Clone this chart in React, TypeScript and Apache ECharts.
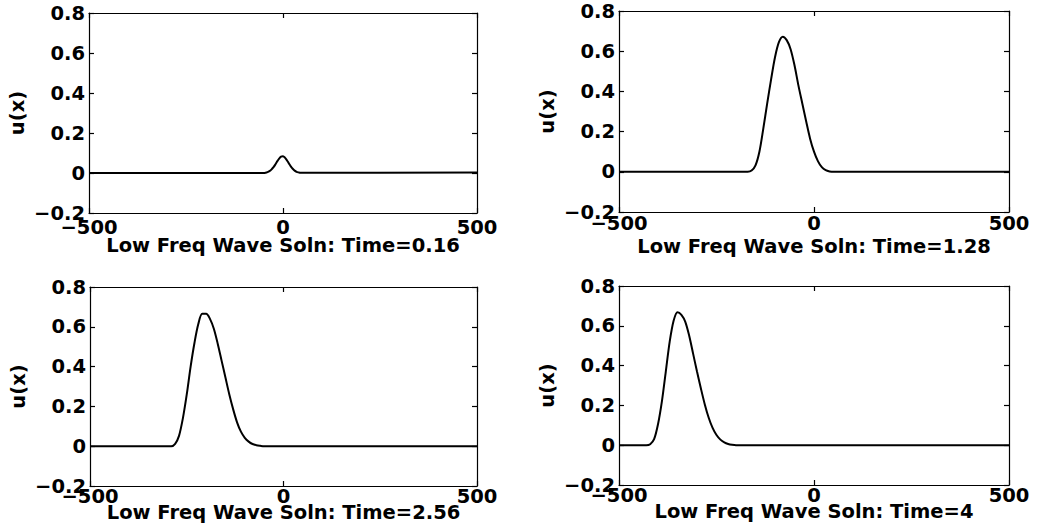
import React, { useEffect, useRef } from "react";
import * as echarts from "echarts";

// Panel titles (x-axis names)
const titles = [
  "Low Freq Wave Soln: Time=0.16",
  "Low Freq Wave Soln: Time=1.28",
  "Low Freq Wave Soln: Time=2.56",
  "Low Freq Wave Soln: Time=4",
];

// Axis ranges / ticks
const xTicks = [-500, 0, 500];
const yTicks = [-0.2, 0, 0.2, 0.4, 0.6, 0.8];
const yLabel = "u(x)";

// Panel 1: Time = 0.16
const x1 = [-500, -50, -45, -40, -35, -30, -25, -20, -15, -10, -5, 0, 5, 10, 15, 20, 25, 30, 35, 40, 45, 50, 500];
const y1 = [0, 0, 0.001, 0.004, 0.009, 0.017, 0.028, 0.042, 0.058, 0.072, 0.082, 0.084, 0.077, 0.064, 0.048, 0.033, 0.021, 0.012, 0.006, 0.003, 0.001, 0.001, 0.003];

// Panel 2: Time = 1.28
const x2 = [-500, -170, -160, -150, -140, -130, -120, -110, -100, -90, -80, -70, -60, -50, -40, -30, -20, -10, 0, 10, 20, 30, 40, 50, 500];
const y2 = [0, 0, 0.006, 0.032, 0.1, 0.215, 0.34, 0.46, 0.57, 0.645, 0.672, 0.655, 0.61, 0.53, 0.43, 0.34, 0.25, 0.165, 0.1, 0.053, 0.023, 0.008, 0.002, 0, 0];

// Panel 3: Time = 2.56
const x3 = [-500, -290, -280, -270, -260, -250, -240, -230, -220, -210, -200, -190, -180, -170, -160, -150, -140, -130, -120, -110, -100, -90, -80, -70, -60, -50, 500];
const y3 = [0, 0, 0.012, 0.052, 0.14, 0.26, 0.4, 0.52, 0.615, 0.665, 0.665, 0.64, 0.59, 0.515, 0.43, 0.345, 0.26, 0.185, 0.12, 0.073, 0.042, 0.023, 0.011, 0.005, 0.002, 0, 0];

// Panel 4: Time = 4
const x4 = [-500, -430, -420, -410, -400, -390, -380, -370, -360, -350, -340, -330, -320, -310, -300, -290, -280, -270, -260, -250, -240, -230, -220, -210, -200, 500];
const y4 = [0, 0, 0.005, 0.03, 0.105, 0.22, 0.37, 0.52, 0.625, 0.668, 0.655, 0.62, 0.55, 0.46, 0.37, 0.285, 0.205, 0.138, 0.087, 0.051, 0.028, 0.014, 0.006, 0.002, 0, 0];

const panelsX = [x1, x2, x3, x4];
const panelsY = [y1, y2, y3, y4];

const FONT = "DejaVu Sans";

export default function App() {
  const ref = useRef<HTMLDivElement>(null);

  useEffect(() => {
    if (!ref.current) return;
    const chart = echarts.init(ref.current, undefined, { renderer: "svg" });

    const grids = [
      { left: 89, top: 13, width: 388, height: 200 },
      { left: 619, top: 11, width: 390, height: 201 },
      { left: 90, top: 287, width: 387, height: 199 },
      { left: 619, top: 286, width: 390, height: 199 },
    ];
    const labelMargins = [4, 1.5, 0, 0];
    const nameGaps = [22, 24, 16, 16];

    const fmt = (v: number) => {
      const s = String(Math.round(v * 1000) / 1000);
      return s.replace("-", "\u2212");
    };

    const lineStyle = { color: "#000", width: 1.2 };
    const labelStyle = {
      color: "#000",
      fontFamily: FONT,
      fontWeight: "bold" as const,
      fontSize: 19.5,
    };

    const xAxes: any[] = [];
    const yAxes: any[] = [];
    const series: any[] = [];

    grids.forEach((_, i) => {
      const xMin = xTicks[0];
      const xMax = xTicks[xTicks.length - 1];
      const xInt = xTicks[1] - xTicks[0];
      const yMin = yTicks[0];
      const yMax = yTicks[yTicks.length - 1];
      const yInt = 0.2;
      xAxes.push({
        type: "value",
        gridIndex: i,
        position: "bottom",
        min: xMin,
        max: xMax,
        interval: xInt,
        axisLine: { show: true, onZero: false, lineStyle },
        axisTick: { show: true, inside: true, length: 5, lineStyle },
        splitLine: { show: false },
        axisLabel: { ...labelStyle, margin: labelMargins[i], formatter: fmt },
        name: titles[i],
        nameLocation: "middle",
        nameGap: nameGaps[i],
        nameMoveOverlap: false,
        nameTextStyle: { ...labelStyle },
      });
      xAxes.push({
        type: "value",
        gridIndex: i,
        position: "top",
        min: xMin,
        max: xMax,
        interval: xInt,
        axisLine: { show: true, onZero: false, lineStyle },
        axisTick: { show: true, inside: true, length: 5, lineStyle },
        splitLine: { show: false },
        axisLabel: { show: false },
      });
      yAxes.push({
        type: "value",
        gridIndex: i,
        position: "left",
        min: yMin,
        max: yMax,
        interval: yInt,
        axisLine: { show: true, onZero: false, lineStyle },
        axisTick: { show: true, inside: true, length: 5, lineStyle },
        splitLine: { show: false },
        axisLabel: { ...labelStyle, margin: 4, formatter: fmt },
        name: yLabel,
        nameLocation: "middle",
        nameGap: 62,
        nameMoveOverlap: false,
        nameTextStyle: { ...labelStyle },
      });
      yAxes.push({
        type: "value",
        gridIndex: i,
        position: "right",
        min: yMin,
        max: yMax,
        interval: yInt,
        axisLine: { show: true, onZero: false, lineStyle },
        axisTick: { show: true, inside: true, length: 5, lineStyle },
        splitLine: { show: false },
        axisLabel: { show: false },
      });
      const xs = panelsX[i];
      const ys = panelsY[i];
      series.push({
        type: "line",
        xAxisIndex: i * 2,
        yAxisIndex: i * 2,
        data: xs.map((x, k) => [x, ys[k]]),
        showSymbol: false,
        symbol: "none",
        smooth: 0.3,
        lineStyle: { color: "#000", width: 2 },
        clip: true,
      });
    });

    chart.setOption({
      animation: false,
      backgroundColor: "#fff",
      grid: grids.map((g) => ({ ...g, containLabel: false })),
      xAxis: xAxes,
      yAxis: yAxes,
      series,
    });

    return () => chart.dispose();
  }, []);

  return (
    <div
      ref={ref}
      style={{ position: "absolute", left: 0, top: 0, width: 1037, height: 532 }}
    />
  );
}
